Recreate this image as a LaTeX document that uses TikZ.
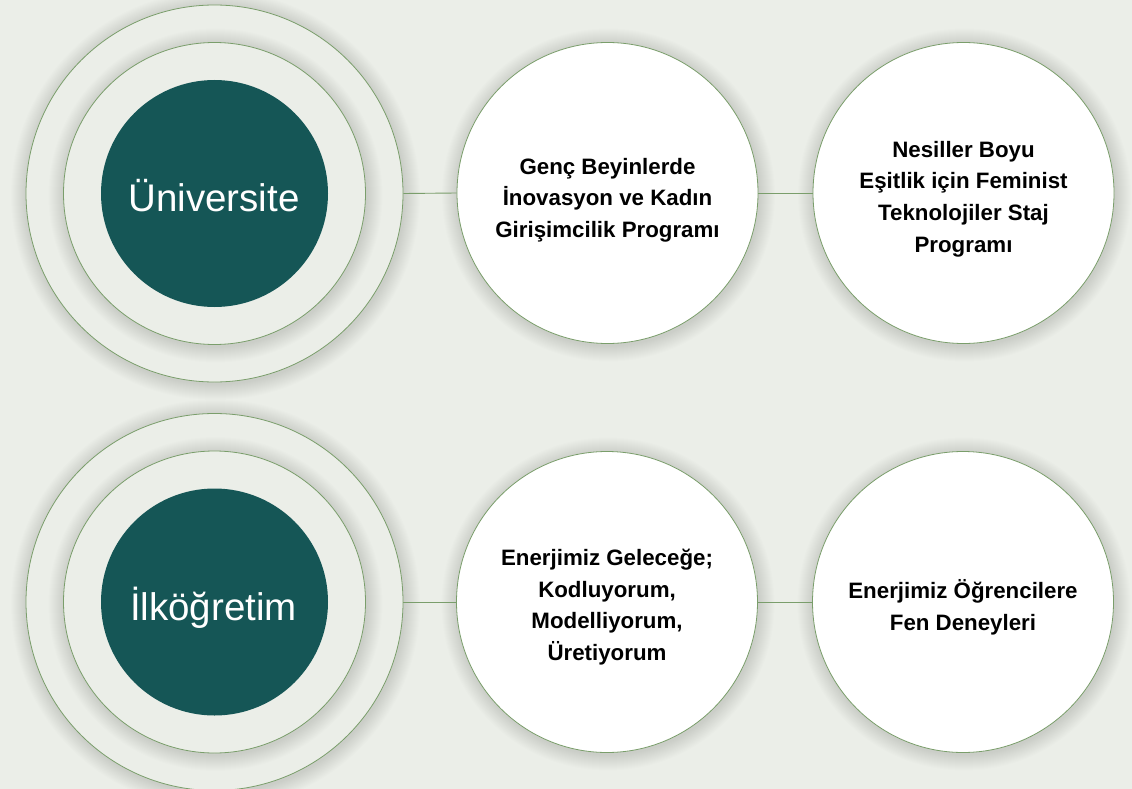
\documentclass[tikz,border=0pt]{standalone}
\usepackage{fontspec}
\setmainfont{Liberation Sans}
\definecolor{bgc}{HTML}{EBEEE8}
\definecolor{darkteal}{HTML}{155656}
\definecolor{ringgreen}{HTML}{7A9E6B}
\newcommand\myshadow[2]{%
  \foreach \k in {1,...,16}{\fill[black,opacity=0.009] ([shift={(1,-2)}]#1) circle ({#2+\k});}}
\begin{document}
\begin{tikzpicture}[x=1pt,y=1pt,
  outerring/.style={circle, draw=ringgreen, line width=0.8pt, fill=bgc, inner sep=0pt, minimum size=377pt},
  midring/.style={circle, draw=ringgreen, line width=0.8pt, fill=bgc, inner sep=0pt, minimum size=302pt},
  core/.style={circle, fill=darkteal, inner sep=0pt, minimum size=227pt},
  bigtxt/.style={text=white, font=\fontsize{38.5}{40}\selectfont, inner sep=0pt},
  prog/.style={circle, draw=ringgreen, line width=0.8pt, fill=white, inner sep=0pt, minimum size=301pt},
  progtxt/.style={align=center, font=\fontsize{22.3}{31.7}\selectfont\bfseries, text=black, inner sep=0pt},
  link/.style={draw=ringgreen, line width=0.9pt}
]
\useasboundingbox[fill=bgc] (0,0) rectangle (1132,-789);

\coordinate (cu) at (214.5,-193.5);
\coordinate (ci) at (214.5,-602);
\coordinate (c1) at (607.5,-193);
\coordinate (c2) at (963.5,-193);
\coordinate (c3) at (607,-602);
\coordinate (c4) at (963,-602);

% Universite group
\myshadow{cu}{188.5}
\node[outerring] (uo) at (cu) {};
\myshadow{cu}{151}
\node[midring] (um) at (cu) {};
\node[core] (uc) at (cu) {};
\node[bigtxt, anchor=base] (ut) at (214,-211) {Üniversite};

% Ilkogretim group
\myshadow{ci}{188.5}
\node[outerring] (io) at (ci) {};
\myshadow{ci}{151}
\node[midring] (im) at (ci) {};
\node[core] (ic) at (ci) {};
\node[bigtxt, anchor=base] (it) at (213.5,-620) {İlköğretim};

% program circles
\myshadow{c1}{150.5}
\node[prog] (p1) at (c1) {};
\node[progtxt] (p1t) at (607.5,-200) {Genç Beyinlerde\\İnovasyon ve Kadın\\Girişimcilik Programı};
\myshadow{c2}{150.5}
\node[prog] (p2) at (c2) {};
\node[progtxt] (p2t) at (963.5,-199) {Nesiller Boyu\\Eşitlik için Feminist\\Teknolojiler Staj\\Programı};
\myshadow{c3}{150.5}
\node[prog] (p3) at (c3) {};
\node[progtxt] (p3t) at (607,-607) {Enerjimiz Geleceğe;\\Kodluyorum,\\Modelliyorum,\\Üretiyorum};
\myshadow{c4}{150.5}
\node[prog] (p4) at (c4) {};
\node[progtxt] (p4t) at (963,-607) {Enerjimiz Öğrencilere\\Fen Deneyleri};

% connectors
\draw[link] (uo.east) -- (p1.west);
\draw[link] (p1.east) -- (p2.west);
\draw[link] (io.east) -- (p3.west);
\draw[link] (p3.east) -- (p4.west);
\end{tikzpicture}
\end{document}
